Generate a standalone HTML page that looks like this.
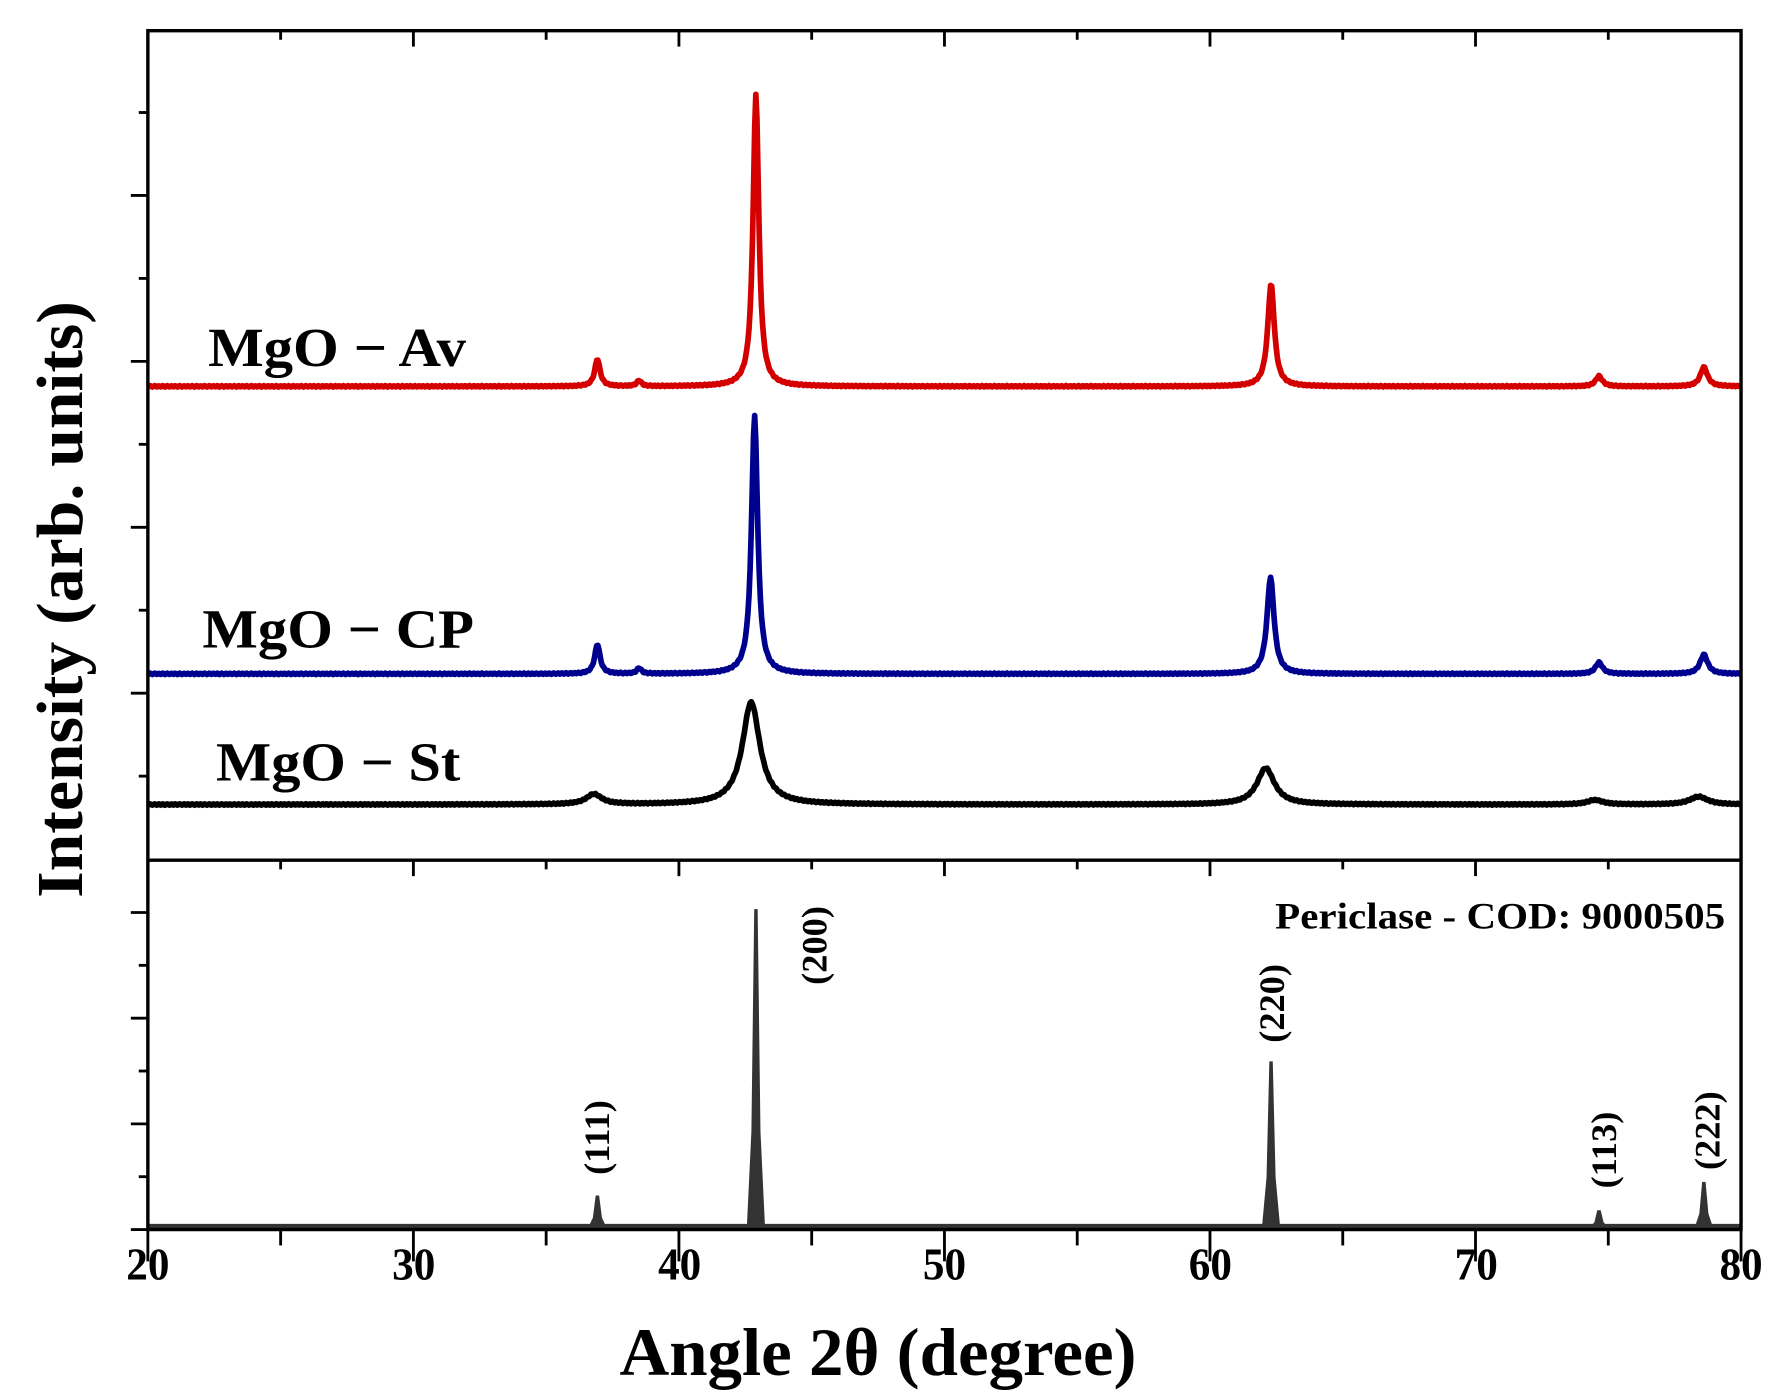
<!DOCTYPE html>
<html><head><meta charset="utf-8"><style>html,body{margin:0;padding:0;background:#fff}svg{display:block}text{font-family:"Liberation Serif",serif;font-weight:bold}</style></head>
<body>
<svg id="s" width="1773" height="1400" viewBox="0 0 1560 1232" xmlns="http://www.w3.org/2000/svg">
<rect width="1560" height="1232" fill="#fff"/>
<g id="ticks" stroke="#000" stroke-width="2.5"></g>
<g id="curves" fill="none" stroke-width="5" stroke-linejoin="round"></g>
<g id="bars" fill="#333"></g>
<rect x="130" y="27" width="1402" height="1055" fill="none" stroke="#000" stroke-width="3"/>
<line x1="130" y1="757" x2="1532" y2="757" stroke="#000" stroke-width="3"/>
<g font-size="40" text-anchor="middle">
<text x="130" y="1126" textLength="38" lengthAdjust="spacingAndGlyphs">20</text><text x="364" y="1126" textLength="38" lengthAdjust="spacingAndGlyphs">30</text><text x="598" y="1126" textLength="38" lengthAdjust="spacingAndGlyphs">40</text><text x="831" y="1126" textLength="38" lengthAdjust="spacingAndGlyphs">50</text><text x="1065" y="1126" textLength="38" lengthAdjust="spacingAndGlyphs">60</text><text x="1299" y="1126" textLength="38" lengthAdjust="spacingAndGlyphs">70</text><text x="1532" y="1126" textLength="38" lengthAdjust="spacingAndGlyphs">80</text>
</g>
<text x="545" y="1210" font-size="60" textLength="455" lengthAdjust="spacingAndGlyphs">Angle 2θ (degree)</text>
<text transform="translate(72,790) rotate(-90)" font-size="58" textLength="525" lengthAdjust="spacingAndGlyphs">Intensity (arb. units)</text>
<text x="183" y="322" font-size="48" textLength="227" lengthAdjust="spacingAndGlyphs">MgO − Av</text>
<text x="178" y="570" font-size="48" textLength="239" lengthAdjust="spacingAndGlyphs">MgO − CP</text>
<text x="190" y="687" font-size="48" textLength="215" lengthAdjust="spacingAndGlyphs">MgO − St</text>
<text x="1122" y="817" font-size="33" textLength="396" lengthAdjust="spacingAndGlyphs">Periclase - COD: 9000505</text>
<g font-size="32" text-anchor="middle">
<text transform="translate(536,1001) rotate(-90)">(111)</text>
<text transform="translate(727,832) rotate(-90)">(200)</text>
<text transform="translate(1130,883) rotate(-90)">(220)</text>
<text transform="translate(1422,1012) rotate(-90)">(113)</text>
<text transform="translate(1513,995) rotate(-90)">(222)</text>
</g>
</svg>
<script>
const X=d=>130+(d-20)*1402/60;
const ns="http://www.w3.org/2000/svg";
function el(p,t,a){const e=document.createElementNS(ns,t);for(const k in a)e.setAttribute(k,a[k]);document.getElementById(p).appendChild(e);return e;}
for(let d=20;d<=80;d+=5){const maj=d%10==0,L=maj?14:8,x=X(d);
 el('ticks','line',{x1:x,y1:27,x2:x,y2:27+L});
 el('ticks','line',{x1:x,y1:757,x2:x,y2:757+L});
 el('ticks','line',{x1:x,y1:1082,x2:x,y2:1082+(maj?28:14)});}
for(let y=683,i=0;y>30;y-=73,i++){const maj=(i%2==1);el('ticks','line',{x1:130-(maj?15:8),y1:y,x2:130,y2:y});}
for(let y=1082,i=0;y>760;y-=46.5,i++){const maj=(i%2==0);el('ticks','line',{x1:130-(maj?15:8),y1:y,x2:130,y2:y});}
function curve(base,peaks,col){let d='';for(let px=130;px<=1532;px+=1){const t=20+(px-130)*60/1402;let y=base;
 for(const [c,h,w] of peaks){y-=h/(1+((t-c)/w)**2);} y+=Math.sin(px*1.7)*0.6;d+=(px==130?'M':'L')+px+' '+y.toFixed(1);}
 el('curves','path',{d:d,stroke:col});}
curve(340,[[36.93,24,0.12],[38.5,5,0.1],[42.9,257,0.13],[62.3,90,0.15],[74.65,9,0.15],[78.6,17,0.16]],'#d40000');
curve(593,[[36.93,26,0.12],[38.5,5,0.1],[42.85,227,0.14],[62.28,85,0.16],[74.65,10,0.16],[78.6,17,0.17]],'#00008f');
curve(708,[[36.8,9,0.35],[42.72,90,0.4],[62.1,32,0.4],[74.5,4,0.35],[78.4,7,0.4]],'#000');
function bar(c,top){const x=X(c),h=1080-top;el('bars','path',{d:`M${x-8} 1080 L${x-4} ${1080-h*0.3} L${x-1.5} ${top} L${x+1.5} ${top} L${x+4} ${1080-h*0.3} L${x+8} 1080 Z`});}
bar(36.93,1052);bar(42.9,800);bar(62.3,934);bar(74.65,1065);bar(78.6,1040);
el('bars','rect',{x:130,y:1077,width:1402,height:4});
</script>
</body></html>
